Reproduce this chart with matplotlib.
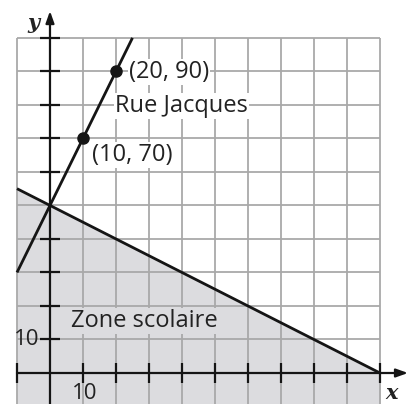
import matplotlib
matplotlib.use("Agg")
import matplotlib.pyplot as plt

# Data
rue_x = [-10, 25]
rue_y = [30, 100]
zone_x = [-10, 100]
zone_y = [55, 0]
pts_x = [10, 20]
pts_y = [70, 90]
pt_labels = ["(10, 70)", "(20, 90)"]
grid_x = [-10, 0, 10, 20, 30, 40, 50, 60, 70, 80, 90, 100]
grid_y = [10, 20, 30, 40, 50, 60, 70, 80, 90, 100]
xtick_pos = [-10, 10, 20, 30, 40, 50, 60, 70, 80, 90, 100]
ytick_pos = [10, 20, 30, 40, 60, 70, 80, 90, 100]

XMIN, XMAX = -15.15, 108.8
YMIN, YMAX = -9.25, 111.3

fig = plt.figure(figsize=(4.09, 4.04), dpi=100)
ax = fig.add_axes([0, 0, 1, 1])
ax.set_xlim(XMIN, XMAX)
ax.set_ylim(YMIN, YMAX)
ax.axis("off")

FONT = "Open Sans"
TXT = "#222222"
GRID = "#a9a9a9"
FILL = "#dcdcdf"
LINE = "#151515"

# shaded zone (down to bottom edge)
ax.fill_between(zone_x, zone_y, [YMIN, YMIN], color=FILL, lw=0, zorder=1)

# grid
for gx in grid_x:
    ax.plot([gx, gx], [YMIN, 100], color=GRID, lw=1.3, zorder=2, solid_capstyle="butt")
for gy in grid_y:
    ax.plot([-10, 100], [gy, gy], color=GRID, lw=1.3, zorder=2, solid_capstyle="butt")

# axes with arrows
ax.annotate("", xy=(108.5, 0), xytext=(-10, 0),
            arrowprops=dict(arrowstyle="-|>,head_length=0.7,head_width=0.25", color=LINE, lw=1.6,
                            shrinkA=0, shrinkB=0), zorder=5)
ax.annotate("", xy=(0, 108.0), xytext=(0, YMIN),
            arrowprops=dict(arrowstyle="-|>,head_length=0.7,head_width=0.25", color=LINE, lw=1.6,
                            shrinkA=0, shrinkB=0), zorder=5)

# tick marks
ax.plot(xtick_pos, [0] * len(xtick_pos), ls="none", marker="|", markersize=14,
        markeredgewidth=1.6, color=LINE, zorder=5)
ax.plot([0] * len(ytick_pos), ytick_pos, ls="none", marker="_", markersize=14,
        markeredgewidth=1.6, color=LINE, zorder=5)

# lines
ax.plot(rue_x, rue_y, color=LINE, lw=2.0, zorder=6, solid_capstyle="butt")
ax.plot(zone_x, zone_y, color=LINE, lw=2.0, zorder=6, solid_capstyle="butt")
ax.plot(pts_x, pts_y, ls="none", marker="o", markersize=8, color=LINE, zorder=7)

# labels
fs = 17
ax.text(23.9, 89.8, pt_labels[1], fontsize=fs, family=FONT, color=TXT,
        ha="left", va="center", zorder=4,
        bbox=dict(facecolor="white", edgecolor="none", pad=0.8))
ax.text(12.7, 65.0, pt_labels[0], fontsize=fs, family=FONT, color=TXT,
        ha="left", va="center", zorder=4,
        bbox=dict(facecolor="white", edgecolor="none", pad=0.8))
ax.text(19.7, 79.6, "Rue Jacques", fontsize=fs, family=FONT, color=TXT,
        ha="left", va="center", zorder=4,
        bbox=dict(facecolor="white", edgecolor="none", pad=0.8))
ax.text(6.5, 15.5, "Zone scolaire", fontsize=fs, family=FONT, color=TXT,
        ha="left", va="center", zorder=4,
        bbox=dict(facecolor=FILL, edgecolor="none", pad=0.8))

ax.text(-3.2, 10, "10", fontsize=16, family=FONT, color=TXT, ha="right", va="center", zorder=4)
ax.text(10.5, -6.0, "10", fontsize=16, family=FONT, color=TXT, ha="center", va="center", zorder=4)
ax.text(-5.0, 104.5, "y", fontsize=15, family="DejaVu Serif", style="italic", weight="bold",
        color=TXT, ha="center", va="center", zorder=4)
ax.text(103.5, -6.0, "x", fontsize=15, family="DejaVu Serif", style="italic", weight="bold",
        color=TXT, ha="center", va="center", zorder=4)

fig.savefig("out.png", dpi=100)
